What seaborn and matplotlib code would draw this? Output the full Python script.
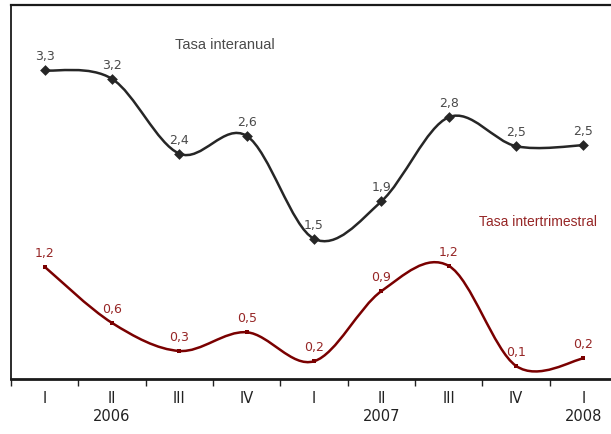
import numpy as np
import matplotlib
matplotlib.use("Agg")
import matplotlib.pyplot as plt
from matplotlib.path import Path
from matplotlib.patches import PathPatch
import seaborn as sns

# data (quarterly rates, %)
quarters = ["I", "II", "III", "IV", "I", "II", "III", "IV", "I"]
years = ["", "2006", "", "", "", "2007", "", "", "2008"]
interanual = [3.3, 3.21, 2.41, 2.6, 1.5, 1.9, 2.8, 2.49, 2.5]
intertrimestral = [1.2, 0.6, 0.3, 0.5, 0.19, 0.94, 1.21, 0.14, 0.22]

DARK = "#262626"
DARK_TXT = "#4a4a4a"
RED = "#7a0000"
RED_TXT = "#962626"


def smooth_path(xs, ys):
    """Excel-like smoothed line: cubic bezier through every point."""
    pts = np.column_stack([xs, ys]).astype(float)
    n = len(pts)
    verts = [pts[0]]
    codes = [Path.MOVETO]
    for i in range(n - 1):
        p0 = pts[max(i - 1, 0)]
        p1 = pts[i]
        p2 = pts[i + 1]
        p3 = pts[min(i + 2, n - 1)]
        verts += [p1 + (p2 - p0) / 6, p2 - (p3 - p1) / 6, p2]
        codes += [Path.CURVE4] * 3
    return Path(verts, codes)


def fmt(v):
    return f"{v:.1f}".replace(".", ",")


sns.set_style("white")
plt.rcParams["font.family"] = ["DejaVu Sans"]

fig = plt.figure(figsize=(6.11, 4.35), dpi=100)
ax = fig.add_axes([0.018, 0.1264, 0.992, 0.8598])

x = np.arange(len(quarters))

for vals, col, txt_col, marker, size in [
    (interanual, DARK, DARK_TXT, "D", 30),
    (intertrimestral, RED, RED_TXT, "s", 5),
]:
    ax.add_patch(PathPatch(smooth_path(x, vals), facecolor="none",
                           edgecolor=col, lw=1.8, zorder=2))
    sns.scatterplot(x=x, y=vals, marker=marker, s=size, color=col,
                    edgecolor=col, linewidth=0, ax=ax, zorder=3, legend=False)
    for xi, v in zip(x, vals):
        ax.annotate(fmt(v), (xi, v), xytext=(0, 8), textcoords="offset points",
                    ha="center", va="baseline", fontsize=9, color=txt_col)

ax.text(2.68, 3.58, "Tasa interanual", ha="center", va="center",
        fontsize=10.5, color=DARK_TXT, family="Liberation Sans")
ax.text(7.32, 1.69, "Tasa intertrimestral", ha="center", va="center",
        fontsize=10, color=RED_TXT, family="Liberation Sans")

ax.set_xlim(-0.5, len(quarters) - 0.5)
ax.set_ylim(0, 4)
ax.set_yticks([])

# separators between quarters, labels in the middle
ax.set_xticks(np.arange(-0.5, len(quarters), 1))
ax.set_xticklabels([])
ax.set_xticks(x, minor=True)
ax.set_xticklabels([f"{q}\n{y}" for q, y in zip(quarters, years)], minor=True)
ax.tick_params(axis="x", which="major", length=5, width=1, color="#222222",
               direction="out", bottom=True)
ax.tick_params(axis="x", which="minor", length=0, pad=8, labelsize=10.5,
               labelcolor="#222222")

for side, w in [("left", 1.3), ("top", 1.6), ("bottom", 2.0), ("right", 1.0)]:
    ax.spines[side].set_linewidth(w)
    ax.spines[side].set_color("#1a1a1a")

fig.savefig("out.png", dpi=100, facecolor="white")
